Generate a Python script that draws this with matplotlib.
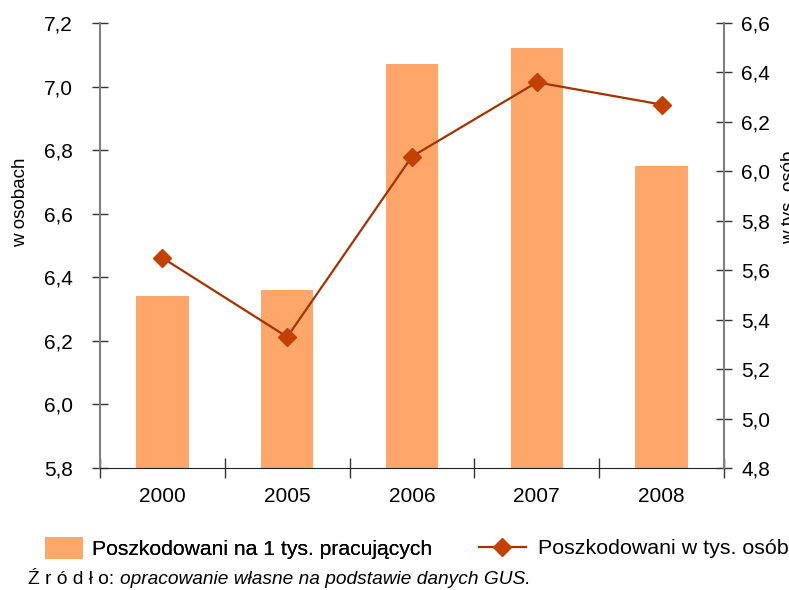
import numpy as np
import matplotlib.pyplot as plt
from matplotlib.patches import Patch
from matplotlib.lines import Line2D

plt.rcParams['font.family'] = ['Liberation Sans', 'DejaVu Sans']

# dane
lata = ['2000', '2005', '2006', '2007', '2008']
na_1_tys = [6.34, 6.36, 7.07, 7.12, 6.75]     # lewa oś (słupki)
w_tys_osob = [5.65, 5.33, 6.06, 6.36, 6.27]   # prawa oś (linia)

kolor_slupka = '#FFA66A'
kolor_linii = '#A33300'
kolor_znacznika = '#C24100'

W, H = 789, 590
fig = plt.figure(figsize=(W / 100, H / 100), dpi=100)
ax = fig.add_axes([100 / W, 1 - 468 / H, 624 / W, 445 / H])

x = np.arange(len(lata))
ax.bar(x, na_1_tys, width=0.42, color=kolor_slupka, bottom=0, zorder=2)
ax.set_ylim(5.8, 7.2)
ax.set_xlim(-0.5, len(lata) - 0.5)
lewe = np.arange(5.8, 7.21, 0.2)
ax.set_yticks(lewe)
ax.set_yticklabels([f'{v:.1f}'.replace('.', ',') for v in lewe])
ax.set_xticks(x)
ax.set_xticklabels(lata)
ax.set_xticks(np.arange(-0.5, len(lata), 1), minor=True)
ax.tick_params(axis='x', which='major', length=0, pad=14, labelsize=15)
ax.tick_params(axis='x', which='minor', direction='inout', length=14, width=1, color='#333333')
ax.tick_params(axis='y', direction='inout', length=11, width=1, labelsize=15, pad=14,
               color='#333333')

for s in ['top', 'right']:
    ax.spines[s].set_visible(False)
ax.spines['left'].set_color('#808080')
ax.spines['left'].set_linewidth(1.5)
ax.spines['bottom'].set_color('#222222')

ax2 = ax.twinx()
ax2.plot(x, w_tys_osob, color=kolor_linii, lw=1.6, marker='D', markersize=9,
         markerfacecolor=kolor_znacznika, markeredgecolor=kolor_znacznika, zorder=3)
ax2.set_ylim(4.8, 6.6)
prawe = np.arange(4.8, 6.61, 0.2)
ax2.set_yticks(prawe)
ax2.set_yticklabels([f'{v:.1f}'.replace('.', ',') for v in prawe])
ax2.tick_params(axis='y', direction='inout', length=11, width=1, labelsize=15, pad=7,
                color='#333333')
for s in ['top', 'left', 'bottom']:
    ax2.spines[s].set_visible(False)
ax2.spines['right'].set_color('#808080')
ax2.spines['right'].set_linewidth(1.5)

# etykiety osi
fig.text(12 / W, 1 - 202 / H, 'w osobach', rotation=90, ha='left', va='center', fontsize=13.5)
fig.text(781 / W, 1 - 197 / H, 'w tys. osób', rotation=90, ha='left', va='center', fontsize=13.5)

# legenda (dwie części, bo uchwyty mają różną długość)
leg1 = fig.legend([Patch(facecolor=kolor_slupka, edgecolor='none')],
                  ['Poszkodowani na 1 tys. pracujących'],
                  loc='center left', bbox_to_anchor=(37 / W, 1 - 548 / H), frameon=False,
                  fontsize=15.2, handlelength=1.8, handleheight=1.25, handletextpad=0.4,
                  borderaxespad=0)
fig.add_artist(leg1)
fig.legend([Line2D([0], [0], color=kolor_linii, lw=1.6, marker='D', markersize=9,
                   markerfacecolor=kolor_znacznika, markeredgecolor=kolor_znacznika)],
           ['Poszkodowani w tys. osób'],
           loc='center left', bbox_to_anchor=(470 / W, 1 - 549 / H), frameon=False,
           fontsize=15.4, handlelength=2.2, handletextpad=0.6, borderaxespad=0)

# źródło
t = fig.text(28 / W, 1 - 579 / H, 'Ź r ó d ł o: ', fontsize=13.8, va='center')
fig.canvas.draw()
bb = t.get_window_extent()
fig.text(bb.x1 / W, 1 - 579 / H, 'opracowanie własne na podstawie danych GUS.',
         fontsize=13.8, style='italic', va='center')

fig.savefig('out.png', dpi=100)
